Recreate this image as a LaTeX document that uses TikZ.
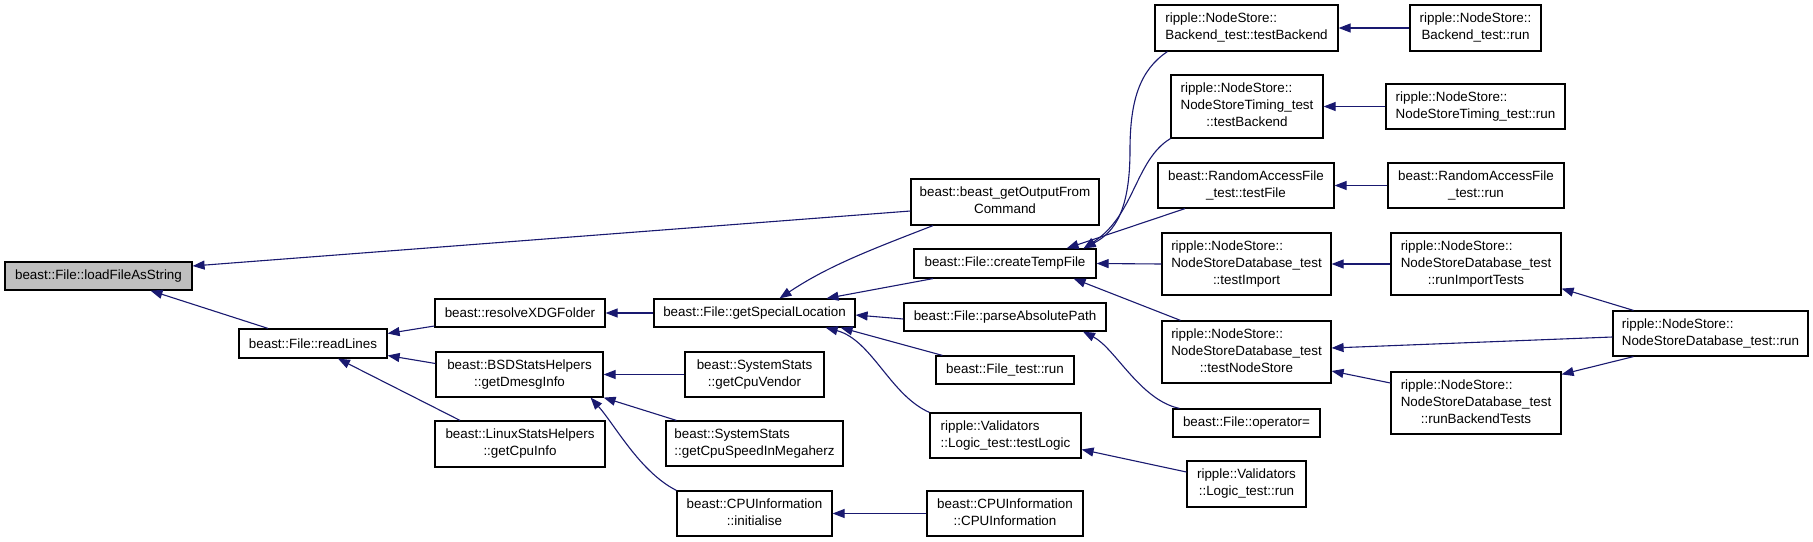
\documentclass[tikz,border=0pt]{standalone}
\usepackage{fontspec}
\setmainfont{Liberation Sans}
\usepackage{xcolor}
\usepackage{tikz}
\usetikzlibrary{arrows.meta}

\definecolor{edgeblue}{HTML}{191970}
\definecolor{rootgrey}{HTML}{BFBFBF}
\newcommand{\lft}[1]{\multicolumn{1}{@{}l@{}}{#1}}
\newcommand{\fnlabel}[1]{\begin{tabular}{@{}c@{}}#1\end{tabular}}

\begin{document}
\begin{tikzpicture}[
    x=1pt, y=-1pt,
    >={Triangle[length=12pt,width=9pt]},
    fn/.style={draw=black, line width=1.2pt, fill=white, inner sep=2pt, font=\fontsize{13.4}{17}\selectfont},
    root/.style={fn, fill=rootgrey},
    call/.style={->, draw=edgeblue, line width=1.1pt}
]
\fill[white] (0,0) rectangle (1813,541);
\useasboundingbox (0,0) rectangle (1813,541);

% first columns
\node[root, minimum width=187pt, minimum height=28pt] (load) at (98.5,276) {beast::File::loadFileAsString};
\node[fn, minimum width=148pt, minimum height=29pt] (rl) at (313,343.5) {beast::File::readLines};
\node[fn, minimum width=170pt, minimum height=28pt] (res) at (520,313) {beast::resolveXDGFolder};
\node[fn, minimum width=167pt, minimum height=45pt] (bsd) at (519.5,374.5) {\fnlabel{beast::BSDStatsHelpers\\::getDmesgInfo}};
\node[fn, minimum width=170pt, minimum height=46pt] (lnx) at (520,444) {\fnlabel{beast::LinuxStatsHelpers\\::getCpuInfo}};

\node[fn, minimum width=201pt, minimum height=28pt] (gsl) at (754.5,313) {beast::File::getSpecialLocation};
\node[fn, minimum width=139pt, minimum height=45pt] (vnd) at (754.5,374.5) {\fnlabel{beast::SystemStats\\::getCpuVendor}};
\node[fn, minimum width=177pt, minimum height=45pt] (mhz) at (754.5,443.5) {\fnlabel{\lft{beast::SystemStats}\\::getCpuSpeedInMegaherz}};
\node[fn, minimum width=155pt, minimum height=45pt] (cin) at (754.5,513.5) {\fnlabel{beast::CPUInformation\\::initialise}};

\node[fn, minimum width=188pt, minimum height=46pt] (cmd) at (1005,202) {\fnlabel{beast::beast\_getOutputFrom\\Command}};
\node[fn, minimum width=182pt, minimum height=29pt] (ctf) at (1005,263.5) {beast::File::createTempFile};
\node[fn, minimum width=202pt, minimum height=28pt] (pap) at (1005,317) {beast::File::parseAbsolutePath};
\node[fn, minimum width=138pt, minimum height=28pt] (ftr) at (1005,370) {beast::File\_test::run};
\node[fn, minimum width=151pt, minimum height=45pt] (tlg) at (1005.5,435.5) {\fnlabel{\lft{ripple::Validators}\\::Logic\_test::testLogic}};
\node[fn, minimum width=156pt, minimum height=45pt] (cic) at (1005,513.5) {\fnlabel{beast::CPUInformation\\::CPUInformation}};

% test columns
\node[fn, minimum width=183pt, minimum height=46pt] (bet) at (1246.5,28) {\fnlabel{\lft{ripple::NodeStore::}\\Backend\_test::testBackend}};
\node[fn, minimum width=152pt, minimum height=63pt] (tmb) at (1247,106.5) {\fnlabel{\lft{ripple::NodeStore::}\\\lft{NodeStoreTiming\_test}\\::testBackend}};
\node[fn, minimum width=176pt, minimum height=45pt] (raf) at (1246,185.5) {\fnlabel{beast::RandomAccessFile\\\_test::testFile}};
\node[fn, minimum width=169pt, minimum height=62pt] (tim) at (1246.5,264) {\fnlabel{\lft{ripple::NodeStore::}\\\lft{NodeStoreDatabase\_test}\\::testImport}};
\node[fn, minimum width=169pt, minimum height=62pt] (tns) at (1246.5,352) {\fnlabel{\lft{ripple::NodeStore::}\\\lft{NodeStoreDatabase\_test}\\::testNodeStore}};
\node[fn, minimum width=147pt, minimum height=28pt] (opr) at (1246.5,423) {beast::File::operator=};
\node[fn, minimum width=119pt, minimum height=46pt] (ltr) at (1246.5,484) {\fnlabel{\lft{ripple::Validators}\\::Logic\_test::run}};

\node[fn, minimum width=131pt, minimum height=46pt] (ber) at (1475.5,28) {\fnlabel{\lft{ripple::NodeStore::}\\Backend\_test::run}};
\node[fn, minimum width=179pt, minimum height=45pt] (tmr) at (1475.5,106.5) {\fnlabel{\lft{ripple::NodeStore::}\\NodeStoreTiming\_test::run}};
\node[fn, minimum width=176pt, minimum height=45pt] (rar) at (1476,185.5) {\fnlabel{beast::RandomAccessFile\\\_test::run}};
\node[fn, minimum width=170pt, minimum height=62pt] (rit) at (1476,264) {\fnlabel{\lft{ripple::NodeStore::}\\\lft{NodeStoreDatabase\_test}\\::runImportTests}};
\node[fn, minimum width=170pt, minimum height=62pt] (rbt) at (1476,403) {\fnlabel{\lft{ripple::NodeStore::}\\\lft{NodeStoreDatabase\_test}\\::runBackendTests}};

\node[fn, minimum width=195pt, minimum height=45pt] (nsr) at (1710.5,333.5) {\fnlabel{\lft{ripple::NodeStore::}\\NodeStoreDatabase\_test::run}};

% calls into the left part
\draw[call] ([yshift=-9pt]cmd.west) -- ([yshift=10pt]load.east);
\draw[call] ([xshift=-45pt]rl.north) -- ([xshift=52pt]load.south);
\draw[call] ([yshift=-13pt]res.west) -- ([yshift=10pt]rl.east);
\draw[call] ([yshift=11pt]bsd.west) -- ([yshift=-12pt]rl.east);
\draw[call] ([xshift=-60pt]lnx.north) -- ([xshift=25pt]rl.south);
\draw[call] (gsl.west) -- (res.east);
\draw[call] (vnd.west) -- (bsd.east);
\draw[call] ([xshift=11pt]mhz.north west) -- (bsd.south east);
\draw[call] (cin.north west) .. controls (640,472) and (615,425) .. ([xshift=-13pt]bsd.south east);

\draw[call] ([xshift=-72pt]cmd.south) .. controls (870,250) and (828,266) .. ([xshift=25pt]gsl.north);
\draw[call] ([xshift=-72pt]ctf.south) -- ([xshift=72pt]gsl.north);
\draw[call] ([yshift=-2pt]pap.west) -- ([yshift=-2pt]gsl.east);
\draw[call] ([xshift=7pt]ftr.north west) -- ([xshift=-15pt]gsl.south east);
\draw[call] (tlg.north west) .. controls (890,395) and (872,340) .. ([xshift=-30pt]gsl.south east);
\draw[call] (cic.west) -- (cin.east);

% calls into createTempFile and friends
\draw[call] ([xshift=13pt]bet.south west) .. controls (1140,70) and (1130,100) .. (1130,150)
    .. controls (1130,210) and (1115,232) .. ([xshift=-13pt]ctf.north east);
\draw[call] (tmb.south west) .. controls (1135,160) and (1135,215) .. ([xshift=-13pt]ctf.north east);
\draw[call] ([xshift=-61pt]raf.south) -- ([xshift=-30pt]ctf.north east);
\draw[call] (tim.west) -- (ctf.east);
\draw[call] ([xshift=-66pt]tns.north) -- ([xshift=-23pt]ctf.south east);
\draw[call] ([xshift=7pt]opr.north west) .. controls (1140,400) and (1115,348) .. ([xshift=78pt]pap.south);
\draw[call] ([yshift=12pt]ltr.west) -- ([yshift=-14pt]tlg.east);

\draw[call] (ber.west) -- (bet.east);
\draw[call] (tmr.west) -- (tmb.east);
\draw[call] (rar.west) -- (raf.east);
\draw[call] (rit.west) -- (tim.east);
\draw[call] ([yshift=20pt]rbt.west) -- ([yshift=-19pt]tns.east);
\draw[call] ([yshift=-3.5pt]nsr.west) -- ([yshift=4pt]tns.east);
\draw[call] ([xshift=-77pt]nsr.north) -- ([yshift=7pt]rit.south east);
\draw[call] ([xshift=-77pt]nsr.south) -- ([yshift=-3pt]rbt.north east);
\end{tikzpicture}
\end{document}
